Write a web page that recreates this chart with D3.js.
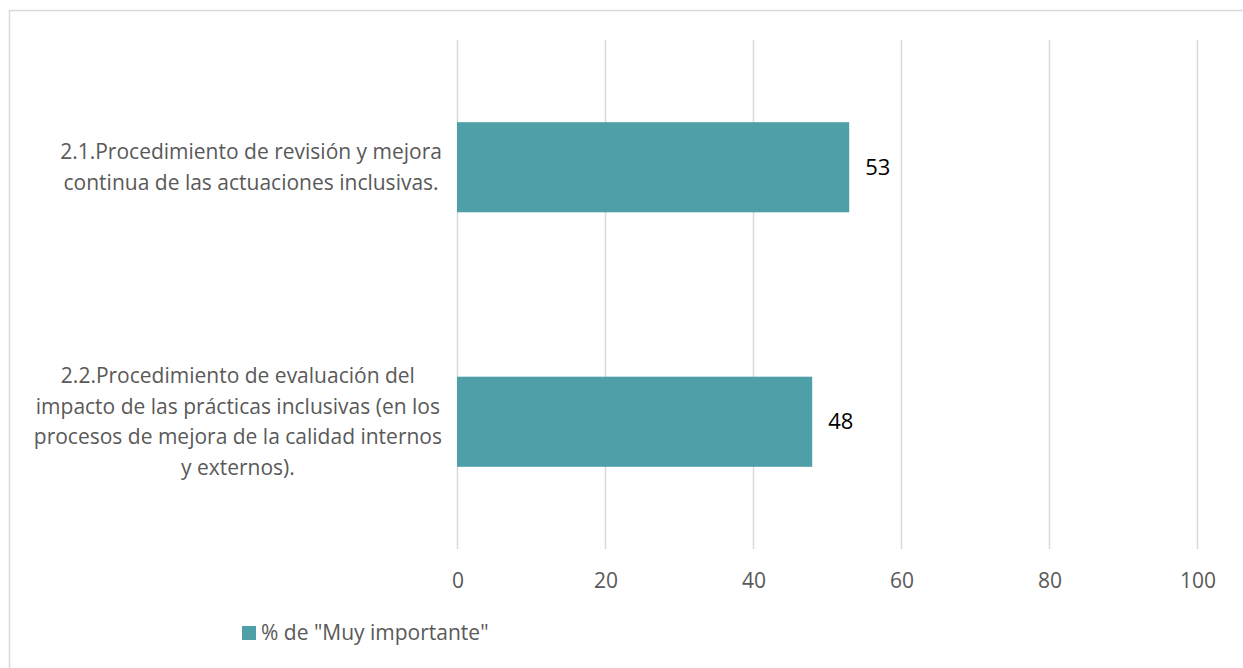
<!DOCTYPE html>
<html><head><meta charset="utf-8">
<script src="https://cdn.jsdelivr.net/npm/d3@7"></script>
<style>
html,body{margin:0;padding:0;background:#fff;}
text{font-family:"Open Sans",sans-serif;}
</style></head>
<body>
<svg id="chart" width="1243" height="668"></svg>
<script>
const categories = [
  ["2.1.Procedimiento de revisión y mejora", "continua de las actuaciones inclusivas."],
  ["2.2.Procedimiento de evaluación del", "impacto de las prácticas inclusivas (en los", "procesos de mejora de la calidad internos", "y externos)."]
];
const values = [53, 48];
const ticks = [0, 20, 40, 60, 80, 100];
const seriesName = '% de "Muy importante"';

const svg = d3.select("#chart");
const W = 1243, H = 668;
const barColor = "#4e9fa8", gridColor = "#d9d9d9", textColor = "#595959";
const fs = 21;

// chart border
svg.append("rect").attr("x", 9.5).attr("y", 10.5).attr("width", W + 10).attr("height", H + 10)
  .attr("fill", "none").attr("stroke", "#d9d9d9").attr("stroke-width", 1.5);

const x = d3.scaleLinear().domain([0, 100]).range([457, 1197]);
const y = d3.scaleBand().domain(d3.range(categories.length)).range([40, 549])
  .paddingInner(0.646).paddingOuter(0.323);

// gridlines
svg.append("g").selectAll("line").data(ticks).join("line")
  .attr("x1", d => x(d) + 0.5).attr("x2", d => x(d) + 0.5)
  .attr("y1", 40).attr("y2", 549)
  .attr("stroke", gridColor).attr("stroke-width", 1.5);

// x axis labels
const xAxis = d3.axisBottom(x).tickValues(ticks).tickSize(0).tickPadding(0);
const gx = svg.append("g").attr("transform", "translate(0,549)").call(xAxis);
gx.select(".domain").remove();
gx.selectAll("text").attr("y", 0).attr("dy", "0.35em").attr("transform", "translate(0.5,32)")
  .attr("fill", textColor).style("font-size", fs + "px").style("font-family", '"Open Sans",sans-serif');

// bars
svg.append("g").selectAll("rect").data(values).join("rect")
  .attr("x", x(0)).attr("y", (d, i) => y(i))
  .attr("width", d => x(d) - x(0)).attr("height", y.bandwidth())
  .attr("fill", barColor);

// value labels
svg.append("g").selectAll("text").data(values).join("text")
  .attr("x", d => x(d) + 16).attr("y", (d, i) => y(i) + y.bandwidth() / 2)
  .attr("dy", "0.35em").attr("fill", "#000").style("font-size", "22px").text(d => d);

// category labels
const lineH = 30.5;
const rightEdge = 442;
categories.forEach((lines, i) => {
  const g = svg.append("g");
  const cy = y(i) + y.bandwidth() / 2;
  const t = g.selectAll("text").data(lines).join("text")
    .attr("y", (d, j) => cy + (j - (lines.length - 1) / 2) * lineH)
    .attr("dy", "0.35em").attr("fill", textColor).style("font-size", fs + "px")
    .attr("text-anchor", "middle").text(d => d);
  let maxW = 0;
  t.each(function() { maxW = Math.max(maxW, this.getComputedTextLength()); });
  t.attr("x", rightEdge - maxW / 2);
});

// legend
const lg = svg.append("g");
lg.append("rect").attr("x", 242).attr("y", 626).attr("width", 14).attr("height", 14).attr("fill", barColor);
lg.append("text").attr("x", 261).attr("y", 633).attr("dy", "0.35em").attr("fill", textColor)
  .style("font-size", fs + "px").text(seriesName);
</script>
</body></html>
